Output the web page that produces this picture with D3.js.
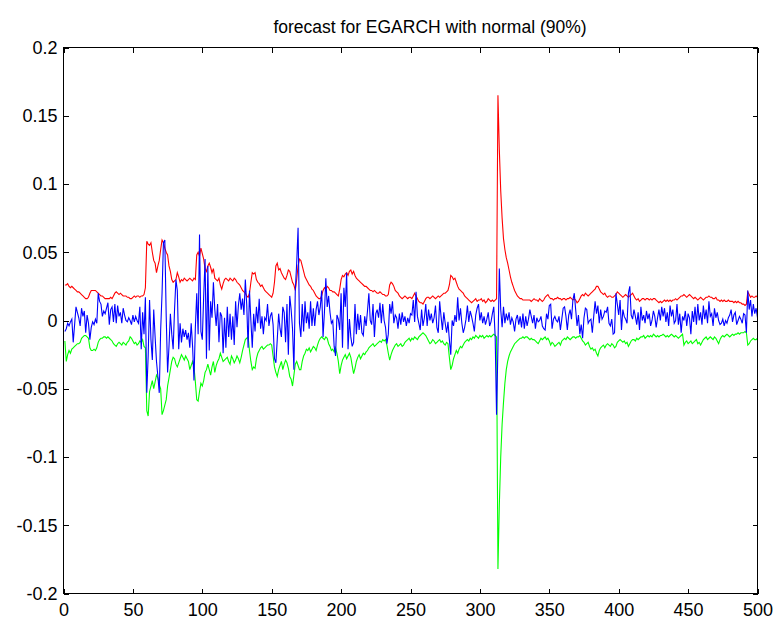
<!DOCTYPE html>
<html>
<head>
<meta charset="utf-8">
<script src="https://cdn.jsdelivr.net/npm/d3@7"></script>
<style>
  html, body { margin: 0; padding: 0; background: #fff; }
  svg { display: block; }
  text { font-family: "Liberation Sans", Arial, Helvetica, sans-serif; }
</style>
</head>
<body>
<svg id="chart" width="777" height="622"></svg>
<script>
// ---- chart text and ticks ----
const chartTitle = "forecast for EGARCH with normal (90%)";
const xTicks = [0, 50, 100, 150, 200, 250, 300, 350, 400, 450, 500];
const yTicks = [-0.2, -0.15, -0.1, -0.05, 0, 0.05, 0.1, 0.15, 0.2];
const yTickLabels = ["-0.2", "-0.15", "-0.1", "-0.05", "0", "0.05", "0.1", "0.15", "0.2"];

// ---- series: upper 90% bound, observed returns, lower 90% bound (t = 1..500) ----
const upperBound = [
0.026,0.026,0.027,0.025,0.024,0.025,0.024,0.023,0.022,0.021,
0.021,0.020,0.019,0.018,0.017,0.016,0.016,0.017,0.020,0.022,
0.022,0.022,0.022,0.021,0.020,0.019,0.018,0.018,0.017,0.016,
0.016,0.016,0.016,0.017,0.016,0.018,0.020,0.021,0.020,0.019,
0.020,0.019,0.018,0.018,0.018,0.017,0.017,0.016,0.016,0.017,
0.018,0.017,0.018,0.018,0.017,0.018,0.018,0.019,0.024,0.058,
0.056,0.055,0.057,0.050,0.044,0.042,0.035,0.040,0.044,0.052,
0.059,0.057,0.053,0.050,0.048,0.040,0.036,0.030,0.028,0.029,
0.030,0.035,0.032,0.028,0.030,0.029,0.031,0.030,0.029,0.030,
0.031,0.030,0.029,0.031,0.030,0.048,0.050,0.047,0.053,0.049,
0.045,0.038,0.036,0.040,0.042,0.039,0.035,0.038,0.031,0.030,
0.029,0.031,0.026,0.023,0.027,0.030,0.031,0.030,0.029,0.031,
0.030,0.029,0.031,0.030,0.028,0.027,0.026,0.024,0.022,0.021,
0.020,0.018,0.017,0.020,0.028,0.035,0.034,0.035,0.030,0.028,
0.027,0.025,0.026,0.024,0.022,0.021,0.020,0.019,0.018,0.017,
0.020,0.028,0.040,0.042,0.037,0.038,0.035,0.033,0.031,0.030,
0.033,0.037,0.036,0.032,0.028,0.026,0.022,0.030,0.040,0.045,
0.044,0.040,0.036,0.032,0.030,0.028,0.026,0.025,0.023,0.022,
0.020,0.018,0.017,0.016,0.016,0.018,0.022,0.024,0.023,0.025,
0.024,0.022,0.022,0.021,0.021,0.020,0.019,0.018,0.023,0.030,
0.033,0.032,0.034,0.035,0.033,0.036,0.037,0.034,0.036,0.033,
0.031,0.030,0.029,0.028,0.027,0.026,0.025,0.025,0.024,0.023,
0.022,0.022,0.021,0.022,0.021,0.020,0.020,0.021,0.020,0.019,
0.019,0.018,0.018,0.019,0.026,0.028,0.027,0.025,0.022,0.021,
0.020,0.018,0.017,0.016,0.017,0.018,0.017,0.016,0.017,0.017,
0.016,0.018,0.020,0.018,0.016,0.014,0.013,0.013,0.012,0.014,
0.016,0.017,0.017,0.016,0.017,0.018,0.017,0.016,0.017,0.018,
0.017,0.018,0.019,0.020,0.020,0.021,0.022,0.026,0.033,0.032,
0.030,0.031,0.028,0.025,0.023,0.022,0.021,0.020,0.018,0.017,
0.016,0.015,0.014,0.013,0.014,0.015,0.016,0.014,0.015,0.015,
0.016,0.014,0.015,0.013,0.014,0.016,0.015,0.014,0.015,0.014,
0.015,0.016,0.165,0.125,0.095,0.075,0.060,0.052,0.046,0.042,
0.037,0.032,0.028,0.025,0.022,0.020,0.018,0.017,0.016,0.016,
0.015,0.015,0.015,0.015,0.015,0.015,0.014,0.015,0.016,0.015,
0.015,0.014,0.016,0.015,0.014,0.015,0.017,0.018,0.019,0.017,
0.016,0.016,0.015,0.016,0.016,0.017,0.016,0.016,0.015,0.016,
0.016,0.015,0.016,0.016,0.017,0.016,0.015,0.016,0.015,0.013,
0.014,0.016,0.018,0.019,0.018,0.020,0.019,0.018,0.019,0.020,
0.021,0.022,0.023,0.025,0.025,0.023,0.021,0.020,0.019,0.020,
0.018,0.017,0.018,0.018,0.017,0.017,0.018,0.019,0.021,0.020,
0.019,0.018,0.017,0.018,0.019,0.018,0.017,0.018,0.019,0.020,
0.018,0.016,0.015,0.016,0.014,0.015,0.016,0.016,0.015,0.016,
0.016,0.015,0.016,0.015,0.016,0.016,0.015,0.014,0.013,0.014,
0.013,0.014,0.015,0.014,0.015,0.014,0.015,0.014,0.015,0.015,
0.016,0.015,0.016,0.017,0.018,0.018,0.019,0.018,0.017,0.018,
0.019,0.018,0.017,0.016,0.017,0.016,0.015,0.016,0.017,0.016,
0.015,0.016,0.017,0.017,0.018,0.017,0.017,0.016,0.016,0.017,
0.015,0.015,0.014,0.015,0.014,0.015,0.014,0.014,0.015,0.014,
0.014,0.014,0.013,0.014,0.013,0.014,0.013,0.013,0.012,0.012,
0.011,0.012,0.021,0.019,0.017,0.018,0.017,0.017,0.018,0.017
];

const returns = [
-0.008,-0.006,-0.002,-0.004,-0.001,0.001,-0.016,-0.003,0.010,0.006,
0.002,-0.004,0.009,0.003,0.007,-0.009,0.004,-0.002,-0.014,-0.005,
-0.001,-0.003,0.001,-0.002,0.020,0.014,0.012,0.003,0.007,0.005,
0.009,0.013,-0.003,0.008,0.010,-0.001,0.012,-0.002,0.011,0.003,
0.006,-0.002,0.009,0.004,0.000,-0.001,0.002,0.000,-0.003,0.004,
-0.001,0.003,0.000,-0.002,0.010,-0.021,0.006,-0.010,0.017,-0.053,
-0.026,0.015,-0.014,-0.029,0.008,-0.012,-0.030,-0.041,-0.053,-0.007,
0.020,0.057,0.059,0.003,-0.038,-0.019,0.005,-0.010,-0.021,0.008,
0.030,0.022,-0.021,-0.002,-0.016,-0.006,-0.012,-0.007,-0.014,-0.009,
-0.020,-0.002,-0.019,-0.044,-0.005,0.020,-0.010,0.063,-0.008,-0.014,
0.018,0.045,-0.028,0.040,-0.022,0.014,0.002,0.028,0.008,-0.004,
0.012,-0.016,0.006,0.003,-0.024,0.002,-0.020,0.010,-0.012,0.005,
-0.014,0.003,-0.018,0.014,-0.005,0.011,0.020,0.008,0.016,0.004,
0.030,0.012,-0.020,0.022,0.000,-0.020,0.005,-0.008,0.010,-0.002,
0.016,-0.006,0.003,-0.010,0.002,0.000,0.012,-0.004,0.003,0.006,
-0.003,-0.028,-0.031,-0.014,0.005,-0.006,-0.012,0.010,0.006,-0.016,
0.012,-0.025,0.018,0.008,-0.006,-0.036,0.022,0.042,0.068,-0.002,
-0.012,0.012,-0.008,0.014,-0.002,0.006,-0.006,0.014,-0.004,0.009,
-0.004,0.008,0.014,0.004,0.010,0.022,-0.012,0.006,0.031,0.010,
0.018,0.006,-0.002,0.000,-0.019,-0.026,0.004,0.001,-0.007,0.020,
-0.020,0.024,0.010,0.035,-0.021,0.001,-0.012,-0.019,-0.016,0.012,
-0.010,0.005,-0.007,0.004,-0.009,-0.011,0.003,-0.004,0.007,0.020,
0.000,-0.003,0.012,-0.012,0.005,0.008,0.002,0.013,-0.002,0.012,
0.000,-0.005,-0.017,-0.010,0.012,0.005,0.014,-0.002,0.004,0.002,
-0.006,0.005,-0.003,0.006,-0.001,0.003,-0.004,0.002,-0.002,0.005,
0.004,0.015,-0.001,0.021,0.003,-0.002,-0.007,0.008,-0.004,0.002,
0.012,-0.004,0.008,0.000,0.005,-0.002,0.002,0.011,-0.005,-0.009,
0.014,0.003,-0.007,0.006,-0.002,-0.009,-0.001,-0.014,-0.025,0.000,
-0.004,0.004,-0.001,0.017,0.000,0.009,-0.002,-0.009,-0.005,0.001,
0.011,-0.001,0.007,0.003,-0.002,-0.008,0.004,0.009,0.012,0.000,
0.006,-0.002,0.003,-0.003,0.001,0.006,-0.004,-0.001,0.005,0.010,
-0.012,-0.069,-0.020,0.038,0.008,-0.005,0.010,-0.002,0.005,0.000,
0.006,-0.003,0.002,-0.001,-0.008,0.001,0.004,-0.003,0.003,-0.005,
0.005,-0.006,0.003,-0.004,0.001,0.008,0.003,-0.002,0.004,-0.006,
0.002,-0.001,0.000,0.003,-0.004,-0.006,-0.007,0.005,0.001,0.011,
0.012,-0.006,0.001,0.003,0.000,-0.001,0.003,-0.007,0.001,0.009,
0.010,0.003,-0.007,0.004,0.008,0.001,0.015,0.020,0.008,-0.004,
0.004,-0.010,-0.003,-0.013,0.002,0.009,0.008,-0.002,0.000,0.001,
-0.009,0.003,0.014,0.005,0.011,-0.002,0.008,0.001,0.003,0.007,
0.006,0.010,-0.002,-0.004,0.001,-0.010,-0.009,0.020,0.012,0.004,
0.015,-0.007,0.008,0.003,0.001,-0.002,0.020,0.025,0.004,0.001,
0.008,0.003,-0.003,0.006,-0.007,0.010,0.000,0.004,-0.002,0.007,
0.001,0.005,-0.004,0.000,0.007,0.003,-0.005,0.002,0.008,0.000,
0.010,0.003,0.009,-0.001,0.006,-0.004,0.011,0.003,0.008,-0.002,
0.000,0.012,-0.003,0.005,-0.009,0.003,0.000,0.007,-0.004,0.005,
0.002,-0.010,0.007,-0.001,0.010,-0.003,0.012,0.000,0.006,-0.003,
0.011,0.001,0.008,-0.002,0.014,0.003,0.005,-0.004,0.009,0.002,
0.006,0.000,-0.003,-0.002,0.001,-0.004,0.000,-0.002,0.002,0.004,
0.008,-0.001,0.004,0.006,-0.003,0.000,0.003,0.001,-0.002,0.005,
0.004,-0.009,0.022,0.008,0.015,0.003,0.012,0.005,0.009,0.002
];

const lowerBound = [
-0.015,-0.030,-0.025,-0.022,-0.024,-0.021,-0.020,-0.019,-0.018,-0.017,
-0.017,-0.016,-0.013,-0.012,-0.011,-0.011,-0.012,-0.013,-0.020,-0.022,
-0.022,-0.021,-0.022,-0.020,-0.016,-0.014,-0.013,-0.013,-0.012,-0.012,
-0.013,-0.012,-0.013,-0.014,-0.015,-0.017,-0.018,-0.019,-0.017,-0.016,
-0.017,-0.018,-0.016,-0.017,-0.018,-0.016,-0.015,-0.012,-0.013,-0.015,
-0.017,-0.016,-0.018,-0.017,-0.015,-0.016,-0.014,-0.019,-0.020,-0.066,
-0.070,-0.052,-0.048,-0.044,-0.050,-0.045,-0.040,-0.042,-0.047,-0.050,
-0.069,-0.066,-0.062,-0.058,-0.048,-0.042,-0.036,-0.030,-0.027,-0.028,
-0.032,-0.034,-0.031,-0.028,-0.025,-0.027,-0.029,-0.026,-0.028,-0.030,
-0.036,-0.033,-0.030,-0.034,-0.045,-0.058,-0.059,-0.052,-0.046,-0.048,
-0.044,-0.038,-0.036,-0.032,-0.036,-0.040,-0.034,-0.030,-0.038,-0.033,
-0.030,-0.028,-0.024,-0.027,-0.030,-0.029,-0.028,-0.027,-0.030,-0.032,
-0.026,-0.028,-0.031,-0.029,-0.026,-0.028,-0.031,-0.027,-0.022,-0.018,
-0.014,-0.013,-0.012,-0.022,-0.030,-0.036,-0.034,-0.035,-0.028,-0.024,
-0.022,-0.020,-0.019,-0.021,-0.020,-0.019,-0.018,-0.018,-0.017,-0.018,
-0.026,-0.034,-0.038,-0.041,-0.036,-0.033,-0.030,-0.036,-0.032,-0.029,
-0.031,-0.035,-0.041,-0.043,-0.048,-0.040,-0.032,-0.030,-0.033,-0.036,
-0.036,-0.030,-0.026,-0.024,-0.021,-0.022,-0.020,-0.023,-0.021,-0.019,
-0.020,-0.022,-0.018,-0.015,-0.013,-0.012,-0.013,-0.014,-0.012,-0.013,
-0.017,-0.019,-0.022,-0.021,-0.023,-0.020,-0.024,-0.030,-0.039,-0.033,
-0.029,-0.027,-0.025,-0.028,-0.026,-0.024,-0.027,-0.033,-0.039,-0.035,
-0.030,-0.027,-0.025,-0.028,-0.026,-0.024,-0.025,-0.023,-0.022,-0.020,
-0.019,-0.018,-0.017,-0.019,-0.018,-0.017,-0.016,-0.015,-0.016,-0.014,
-0.015,-0.014,-0.018,-0.024,-0.029,-0.025,-0.022,-0.020,-0.018,-0.017,
-0.019,-0.018,-0.017,-0.019,-0.018,-0.016,-0.015,-0.014,-0.013,-0.015,
-0.013,-0.014,-0.012,-0.013,-0.014,-0.012,-0.011,-0.010,-0.009,-0.010,
-0.011,-0.013,-0.015,-0.017,-0.016,-0.014,-0.015,-0.017,-0.016,-0.015,
-0.014,-0.016,-0.015,-0.017,-0.018,-0.016,-0.017,-0.027,-0.036,-0.033,
-0.028,-0.025,-0.022,-0.024,-0.021,-0.019,-0.020,-0.018,-0.016,-0.015,
-0.014,-0.015,-0.013,-0.014,-0.012,-0.013,-0.011,-0.012,-0.013,-0.011,
-0.012,-0.011,-0.013,-0.012,-0.011,-0.012,-0.011,-0.012,-0.011,-0.010,
-0.011,-0.012,-0.182,-0.135,-0.100,-0.076,-0.060,-0.046,-0.036,-0.030,
-0.026,-0.023,-0.021,-0.019,-0.017,-0.016,-0.015,-0.014,-0.013,-0.013,
-0.012,-0.013,-0.012,-0.012,-0.013,-0.014,-0.013,-0.014,-0.014,-0.015,
-0.016,-0.017,-0.015,-0.013,-0.014,-0.013,-0.012,-0.014,-0.013,-0.015,
-0.018,-0.016,-0.017,-0.019,-0.018,-0.017,-0.016,-0.018,-0.015,-0.014,
-0.013,-0.014,-0.012,-0.013,-0.014,-0.013,-0.012,-0.012,-0.013,-0.012,
-0.012,-0.011,-0.013,-0.015,-0.016,-0.018,-0.017,-0.016,-0.019,-0.021,
-0.020,-0.022,-0.021,-0.024,-0.026,-0.022,-0.020,-0.019,-0.018,-0.020,
-0.018,-0.017,-0.018,-0.019,-0.017,-0.018,-0.020,-0.019,-0.016,-0.015,
-0.014,-0.015,-0.016,-0.015,-0.017,-0.016,-0.019,-0.017,-0.015,-0.014,
-0.014,-0.015,-0.013,-0.014,-0.013,-0.012,-0.012,-0.011,-0.013,-0.012,
-0.011,-0.012,-0.011,-0.012,-0.010,-0.011,-0.012,-0.011,-0.012,-0.011,
-0.011,-0.010,-0.011,-0.012,-0.011,-0.012,-0.011,-0.010,-0.011,-0.012,
-0.011,-0.012,-0.013,-0.012,-0.011,-0.010,-0.018,-0.016,-0.015,-0.017,
-0.016,-0.015,-0.017,-0.016,-0.015,-0.014,-0.017,-0.016,-0.018,-0.016,
-0.014,-0.013,-0.012,-0.014,-0.013,-0.012,-0.013,-0.014,-0.012,-0.013,
-0.015,-0.017,-0.014,-0.012,-0.011,-0.012,-0.011,-0.010,-0.011,-0.012,
-0.011,-0.010,-0.011,-0.010,-0.010,-0.009,-0.010,-0.009,-0.009,-0.009,
-0.008,-0.009,-0.018,-0.017,-0.015,-0.014,-0.013,-0.014,-0.014,-0.013
];

// ---- layout ----
const width = 777, height = 622;
const plot = { left: 63.5, right: 757.5, top: 47.5, bottom: 593.5 };
const tickLen = 5;
const labelFont = "18px";

const svg = d3.select("#chart");
svg.append("rect").attr("width", width).attr("height", height).attr("fill", "#fff");

const x = d3.scaleLinear().domain([0, 500]).range([plot.left, plot.right]);
const y = d3.scaleLinear().domain([-0.2, 0.2]).range([plot.bottom, plot.top]);

// sample number t starts at 1
const line = d3.line().x((d, i) => x(i + 1)).y(d => y(d));

const series = [
  { values: upperBound, color: "#ff0000" },
  { values: lowerBound, color: "#00ff00" },
  { values: returns,    color: "#0000ff" }
];

svg.append("defs").append("clipPath").attr("id", "plot-clip")
  .append("rect")
  .attr("x", plot.left).attr("y", plot.top)
  .attr("width", plot.right - plot.left).attr("height", plot.bottom - plot.top);

const lines = svg.append("g").attr("clip-path", "url(#plot-clip)");
series.forEach(s => {
  lines.append("path")
    .datum(s.values)
    .attr("d", line)
    .attr("fill", "none")
    .attr("stroke", s.color)
    .attr("stroke-width", 1.1)
    .attr("stroke-linejoin", "miter");
});

// ---- axes: ticks point inward on all four sides ----
function styleAxis(g) {
  g.select(".domain").remove();
  g.selectAll(".tick line").attr("stroke", "#000").attr("shape-rendering", "crispEdges");
  g.selectAll(".tick text").attr("fill", "#000").style("font-size", labelFont)
    .style("font-family", "'Liberation Sans', Arial, sans-serif");
}

const yLabel = d => yTickLabels[yTicks.indexOf(d)];

svg.append("g")
  .attr("transform", `translate(0,${plot.bottom})`)
  .call(d3.axisBottom(x).tickValues(xTicks).tickFormat(d3.format("d"))
    .tickSizeInner(-tickLen).tickSizeOuter(0).tickPadding(10))
  .call(styleAxis);

svg.append("g")
  .attr("transform", `translate(0,${plot.top})`)
  .call(d3.axisTop(x).tickValues(xTicks).tickFormat("")
    .tickSizeInner(-tickLen).tickSizeOuter(0))
  .call(styleAxis);

svg.append("g")
  .attr("transform", `translate(${plot.left},0)`)
  .call(d3.axisLeft(y).tickValues(yTicks).tickFormat(yLabel)
    .tickSizeInner(-tickLen).tickSizeOuter(0).tickPadding(6))
  .call(styleAxis);

svg.append("g")
  .attr("transform", `translate(${plot.right},0)`)
  .call(d3.axisRight(y).tickValues(yTicks).tickFormat("")
    .tickSizeInner(-tickLen).tickSizeOuter(0))
  .call(styleAxis);

// frame
svg.append("rect")
  .attr("x", plot.left).attr("y", plot.top)
  .attr("width", plot.right - plot.left).attr("height", plot.bottom - plot.top)
  .attr("fill", "none").attr("stroke", "#000").attr("stroke-width", 1)
  .attr("shape-rendering", "crispEdges");

// title
svg.append("text")
  .attr("x", 430)
  .attr("y", 33)
  .attr("text-anchor", "middle")
  .attr("fill", "#000")
  .style("font-size", "17.5px")
  .text(chartTitle);
</script>
</body>
</html>
